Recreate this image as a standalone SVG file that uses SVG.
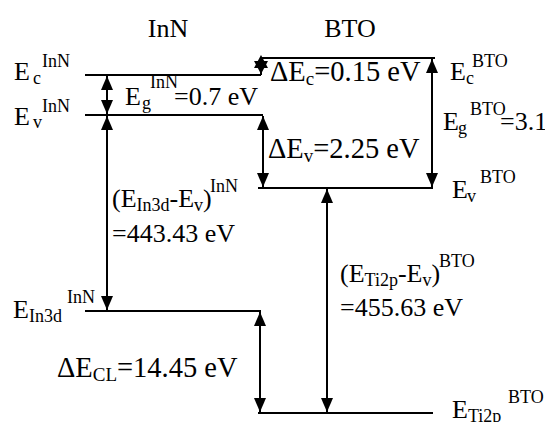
<svg xmlns="http://www.w3.org/2000/svg" width="545" height="422" viewBox="0 0 545 422">
<defs>
<style>
.lvl{stroke:#000;stroke-width:2;fill:none}
.arr{stroke:#000;stroke-width:2;fill:none;marker-start:url(#ah);marker-end:url(#ah)}
.t text{font-size:26px;fill:#000}
.t .s{font-size:18px}
.t text.d{font-size:28.5px}
.t .d .s{font-size:19px}
.hd{fill:#000;stroke:none}
</style>
<marker id="ah" markerUnits="userSpaceOnUse" markerWidth="15" markerHeight="13" refX="14" refY="6" orient="auto-start-reverse" viewBox="0 0 15 13">
<path d="M0,0 L14,6 L0,12 z" fill="#000"/>
</marker>
</defs>
<rect width="545" height="422" fill="#fff"/>
<g id="levels">
<g id="Ec-InN"><line class="lvl" x1="85" y1="75" x2="261" y2="75"/></g>
<g id="Ec-BTO"><line class="lvl" x1="261" y1="58" x2="435" y2="58"/></g>
<g id="Ev-InN"><line class="lvl" x1="85" y1="115" x2="263" y2="115"/></g>
<g id="Ev-BTO"><line class="lvl" x1="258" y1="188" x2="433" y2="188"/></g>
<g id="In3d"><line class="lvl" x1="85" y1="311" x2="261" y2="311"/></g>
<g id="Ti2p"><line class="lvl" x1="258" y1="413" x2="433" y2="413"/></g>
</g>
<g id="connectors">
<line class="lvl" x1="261" y1="58" x2="261" y2="75"/>
<path class="hd" d="M261,55 L268,68 L254,68 z"/>
<path class="hd" d="M261,74 L254,61 L268,61 z"/>
<line class="arr" x1="107" y1="76" x2="107" y2="114"/>
<line class="arr" x1="107" y1="116" x2="107" y2="310"/>
<line class="arr" x1="263" y1="116" x2="263" y2="187"/>
<line class="arr" x1="260" y1="312" x2="260" y2="412"/>
<line class="arr" x1="432" y1="59" x2="432" y2="187"/>
<line class="arr" x1="327" y1="189" x2="327" y2="412"/>
</g>
<g id="labels" class="t" font-family="'Liberation Serif', 'Times New Roman', 'DejaVu Serif', serif">
<text x="168" y="37" text-anchor="middle">InN</text>
<text x="350" y="37" text-anchor="middle">BTO</text>
<text x="14" y="80">E<tspan class="s" x="33" y="84">c</tspan><tspan class="s" x="42" y="67">InN</tspan></text>
<text x="14" y="125">E<tspan class="s" x="33" y="128">v</tspan><tspan class="s" x="42" y="112">InN</tspan></text>
<text x="125" y="105">E<tspan class="s" x="142" y="109">g</tspan><tspan class="s" x="150" y="88">InN</tspan><tspan x="174" y="105">=0.7 eV</tspan></text>
<text class="d" x="270" y="81">ΔE<tspan class="s" dy="4">c</tspan><tspan dy="-4">=0.15 eV</tspan></text>
<text x="450" y="80">E<tspan class="s" x="466" y="84">c</tspan><tspan class="s" x="472" y="67">BTO</tspan></text>
<text x="443" y="130">E<tspan class="s" x="458" y="134">g</tspan><tspan class="s" x="470" y="115">BTO</tspan><tspan x="500" y="130">=3.1</tspan></text>
<text class="d" x="268" y="158">ΔE<tspan class="s" dy="4">v</tspan><tspan dy="-4">=2.25 eV</tspan></text>
<text x="452" y="198">E<tspan class="s" x="467" y="202">v</tspan><tspan class="s" x="480" y="183">BTO</tspan></text>
<text x="112" y="207">(E<tspan class="s" dy="4">In3d</tspan><tspan dy="-4">-E</tspan><tspan class="s" dy="4">v</tspan><tspan dy="-4">)</tspan><tspan class="s" x="210" y="192">InN</tspan></text>
<text x="112" y="242">=443.43 eV</text>
<text x="340" y="282">(E<tspan class="s" dy="4">Ti2p</tspan><tspan dy="-4">-E</tspan><tspan class="s" dy="4">v</tspan><tspan dy="-4">)</tspan><tspan class="s" x="439" y="267">BTO</tspan></text>
<text x="340" y="316">=455.63 eV</text>
<text x="13" y="318">E<tspan class="s" dy="4">In3d</tspan><tspan class="s" x="67" y="303">InN</tspan></text>
<text class="d" x="57" y="377">ΔE<tspan class="s" dy="4">CL</tspan><tspan dy="-4">=14.45 eV</tspan></text>
<text x="452" y="418">E<tspan class="s" dy="4">Ti2p</tspan><tspan class="s" x="508" y="403">BTO</tspan></text>
</g>
</svg>
